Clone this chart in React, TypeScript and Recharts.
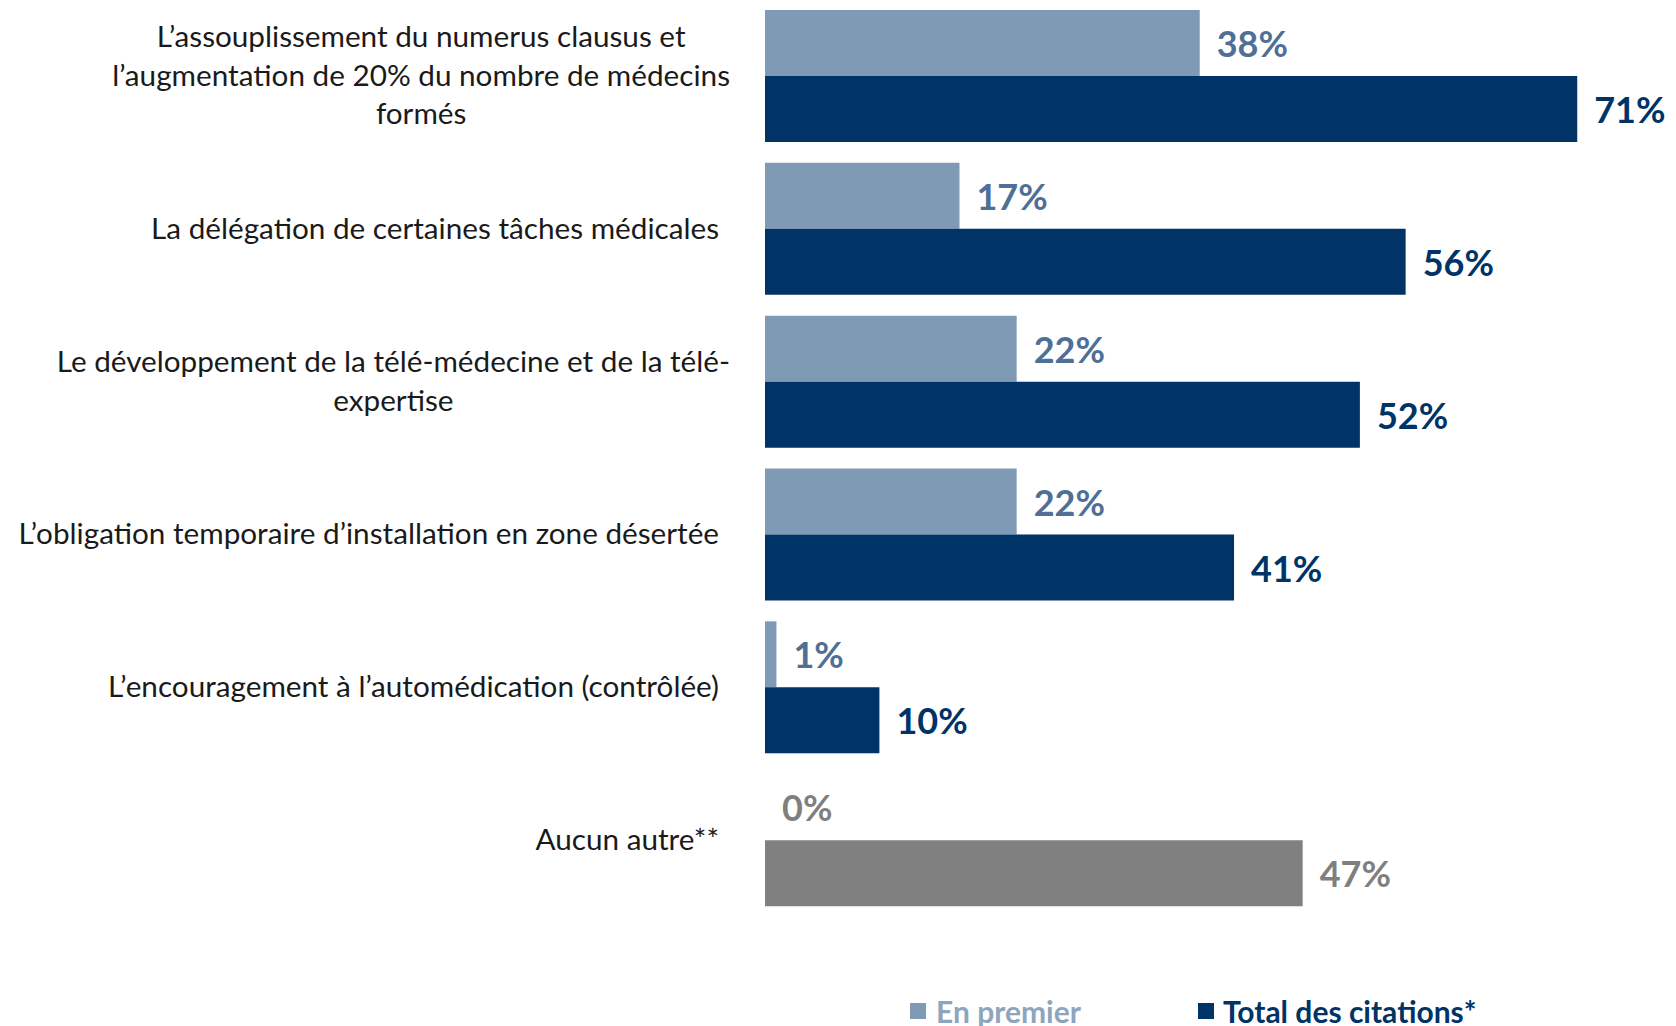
import { BarChart, Bar, XAxis, YAxis, Cell, LabelList, Legend } from "recharts";

const categories = [
  "L’assouplissement du numerus clausus et l’augmentation de 20% du nombre de médecins formés",
  "La délégation de certaines tâches médicales",
  "Le développement de la télé-médecine et de la télé-expertise",
  "L’obligation temporaire d’installation en zone désertée",
  "L’encouragement à l’automédication (contrôlée)",
  "Aucun autre**",
];

// how the labels wrap in the original
const labelLines = [
  ["L’assouplissement du numerus clausus et", "l’augmentation de 20% du nombre de médecins", "formés"],
  ["La délégation de certaines tâches médicales"],
  ["Le développement de la télé-médecine et de la télé-", "expertise"],
  ["L’obligation temporaire d’installation en zone désertée"],
  ["L’encouragement à l’automédication (contrôlée)"],
  ["Aucun autre**"],
];

const enPremier = [38, 17, 22, 22, 1, 0];
const totalCitations = [71, 56, 52, 41, 10, 47];

const data = categories.map((name, i) => ({
  name,
  premier: enPremier[i],
  total: totalCitations[i],
}));

const FONT = "Lato, 'Open Sans', sans-serif";
const LIGHT = "#7f9ab4";
const LIGHT_TEXT = "#4f6f96";
const DARK = "#003366";
const GRAY = "#808080";
const GRAY_TEXT = "#7f7f7f";
const LAST = categories.length - 1;

const TICK_SIZE = 29.7;
const LINE_H = 38.5;

let canvasCtx: CanvasRenderingContext2D | null = null;
const measure = (s: string) => {
  if (!canvasCtx) canvasCtx = document.createElement("canvas").getContext("2d");
  if (!canvasCtx) return s.length * TICK_SIZE * 0.5;
  canvasCtx.font = `${TICK_SIZE}px Lato`;
  return canvasCtx.measureText(s).width;
};

const CategoryTick = (props: any) => {
  const { x, payload } = props;
  const y = props.y - 2;
  const lines = labelLines[payload.index] || [payload.value];
  if (lines.length === 1) {
    return (
      <text x={x - 46} y={y} textAnchor="end" dominantBaseline="central"
        fontFamily={FONT} fontSize={TICK_SIZE} fill="#1a1a1a">
        {lines[0]}
      </text>
    );
  }
  const maxW = Math.max(...lines.map(measure));
  const cx = x - 35 - maxW / 2;
  const top = y - ((lines.length - 1) * LINE_H) / 2;
  return (
    <text textAnchor="middle" fontFamily={FONT} fontSize={TICK_SIZE} fill="#1a1a1a">
      {lines.map((l, i) => (
        <tspan key={i} x={cx} y={top + i * LINE_H} dominantBaseline="central">
          {l}
        </tspan>
      ))}
    </text>
  );
};

const valueLabel = (color: string) => (props: any) => {
  const { x, y, width, height, value, index } = props;
  return (
    <text x={x + width + 17} y={y + height / 2} dominantBaseline="central"
      fontFamily={FONT} fontWeight={700} fontSize={36}
      fill={index === LAST ? GRAY_TEXT : color}>
      {value}%
    </text>
  );
};

const LegendContent = () => (
  <div style={{ display: "flex", fontFamily: FONT, fontWeight: 700, fontSize: 30, height: 36, alignItems: "center" }}>
    <div style={{ display: "flex", alignItems: "center", marginLeft: 910 }}>
      <span style={{ width: 16, height: 16, background: LIGHT, marginRight: 10 }} />
      <span style={{ color: "#8ea5bd" }}>En premier</span>
    </div>
    <div style={{ display: "flex", alignItems: "center", marginLeft: 117 }}>
      <span style={{ width: 16, height: 16, background: DARK, marginRight: 9 }} />
      <span style={{ color: DARK }}>Total des citations*</span>
    </div>
  </div>
);

export default function App() {
  return (
    <div style={{ position: "absolute", left: 0, top: 0, background: "#fff" }}>
      <BarChart
        width={1676}
        height={1026}
        data={data}
        layout="vertical"
        margin={{ top: 0, right: 53, bottom: 73, left: 0 }}
        barCategoryGap={10}
        barGap={0}
      >
        <XAxis type="number" domain={[0, 75]} hide />
        <YAxis
          type="category"
          dataKey="name"
          width={765}
          axisLine={false}
          tickLine={false}
          tickSize={0}
          tickMargin={0}
          interval={0}
          tick={<CategoryTick />}
        />
        <Legend content={<LegendContent />} verticalAlign="bottom" wrapperStyle={{ top: 993, left: 0, bottom: "auto" }} />
        <Bar dataKey="premier" isAnimationActive={false} minPointSize={0.01}>
          {data.map((_, i) => (
            <Cell key={i} fill={i === LAST ? GRAY : LIGHT} />
          ))}
          <LabelList dataKey="premier" content={valueLabel(LIGHT_TEXT)} />
        </Bar>
        <Bar dataKey="total" isAnimationActive={false}>
          {data.map((_, i) => (
            <Cell key={i} fill={i === LAST ? GRAY : DARK} />
          ))}
          <LabelList dataKey="total" content={valueLabel(DARK)} />
        </Bar>
      </BarChart>
    </div>
  );
}
